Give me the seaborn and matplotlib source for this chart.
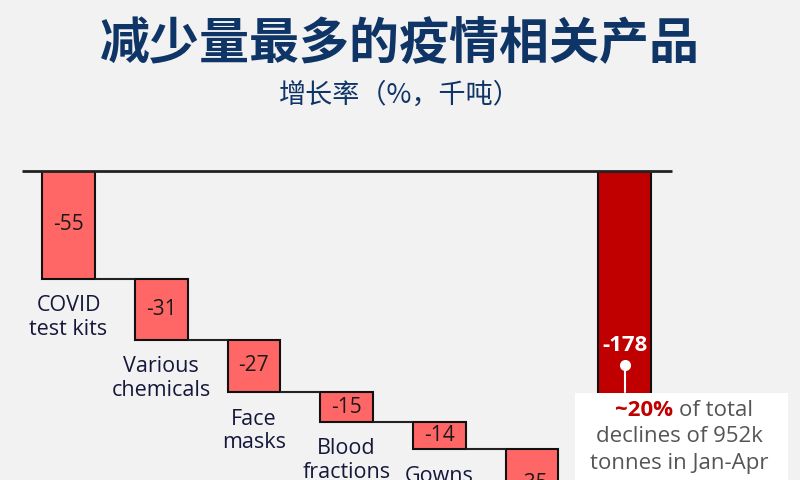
import numpy as np
import pandas as pd
import matplotlib
matplotlib.use('Agg')
import matplotlib.pyplot as plt
from matplotlib.patches import Rectangle
import seaborn as sns

# data
categories = ['COVID\ntest kits', 'Various\nchemicals', 'Face\nmasks',
              'Blood\nfractions', 'Gowns', 'Other', 'Total']
changes = [-55, -31, -27, -15, -14, -35]
total = -178
value_labels = ['-55', '-31', '-27', '-15', '-14', '-35', '-178']

BG = '#f2f2f2'
NAVY = '#0f3466'
LIGHT_RED = '#ff6666'
DARK_RED = '#c00000'

sns.set_theme(style='white')
plt.rcParams['font.family'] = ['Open Sans', 'Noto Sans CJK SC', 'DejaVu Sans']

# waterfall starts / heights
starts = list(np.concatenate([[0], np.cumsum(changes)[:-1]])) + [0]
heights = changes + [total]
ends = [s + h for s, h in zip(starts, heights)]
df = pd.DataFrame({'cat': categories, 'height': heights, 'start': starts})

fig = plt.figure(figsize=(8, 4.8), dpi=100)
fig.patch.set_facecolor(BG)
ax = fig.add_axes([0, 0, 1, 309 / 480])
ax.set_facecolor(BG)

bar_w = 0.57
sns.barplot(data=df, x='cat', y='height', bottom=df['start'], color=LIGHT_RED,
            saturation=1, width=bar_w, edgecolor='#111111', linewidth=1.5,
            errorbar=None, ax=ax)
ax.patches[-1].set_facecolor(DARK_RED)

ax.set_ylim(-157.7, 0)
ax.set_xlim(-0.739, 7.89)
ax.axis('off')

# zero line
ax.hlines(0, -0.5, 6.51, color='#222222', lw=2, clip_on=False, zorder=5)

# connectors
for i in range(len(categories) - 1):
    ax.hlines(ends[i], i + bar_w / 2, i + 1 - bar_w / 2, color='#222222', lw=1.5, zorder=1)

# value labels in bars
for i, (s, h) in enumerate(zip(starts, heights)):
    if i == len(categories) - 1:
        ax.text(i, s + h / 2, value_labels[i], ha='center', va='center',
                color='white', fontsize=16, fontweight='bold')
    else:
        ax.text(i, s + h / 2, value_labels[i], ha='center', va='center',
                color='#1a1a1a', fontsize=15)

# category labels below bars
for i in range(len(categories) - 2):
    ax.text(i, ends[i] - 8.5, categories[i], ha='center', va='top',
            color='#15183a', fontsize=15.5, linespacing=1.15)

# annotation for total
ax.plot([6, 6], [-99, -113], color='white', lw=1.5, zorder=6)
ax.plot([6], [-99], 'o', color='white', ms=7, zorder=6)

fig.patches.append(Rectangle((575 / 800, 0), 213 / 800, 87 / 480,
                             transform=fig.transFigure, facecolor='white',
                             edgecolor='none', zorder=7))
fig.text(673 / 800, 1 - 411 / 480, '~20%', ha='right', va='center',
         color=DARK_RED, fontsize=16, fontweight='bold', zorder=8)
fig.text(679 / 800, 1 - 411 / 480, 'of total', ha='left', va='center',
         color='#555555', fontsize=16, zorder=8)
fig.text(679 / 800, 1 - 437 / 480, 'declines of 952k', ha='center', va='center',
         color='#555555', fontsize=16, zorder=8)
fig.text(679 / 800, 1 - 464 / 480, 'tonnes in Jan-Apr', ha='center', va='center',
         color='#555555', fontsize=16, zorder=8)

# title
fig.text(0.5, 1 - 45 / 480, '减少量最多的疫情相关产品', ha='center', va='center',
         color=NAVY, fontsize=36, fontweight='bold',
         family=['Noto Sans CJK SC', 'DejaVu Sans'])
fig.text(0.5, 1 - 95 / 480, '增长率（%，千吨）', ha='center', va='center',
         color=NAVY, fontsize=19.5, family=['Noto Sans CJK SC', 'DejaVu Sans'])

fig.savefig('out.png', dpi=100, facecolor=BG)
